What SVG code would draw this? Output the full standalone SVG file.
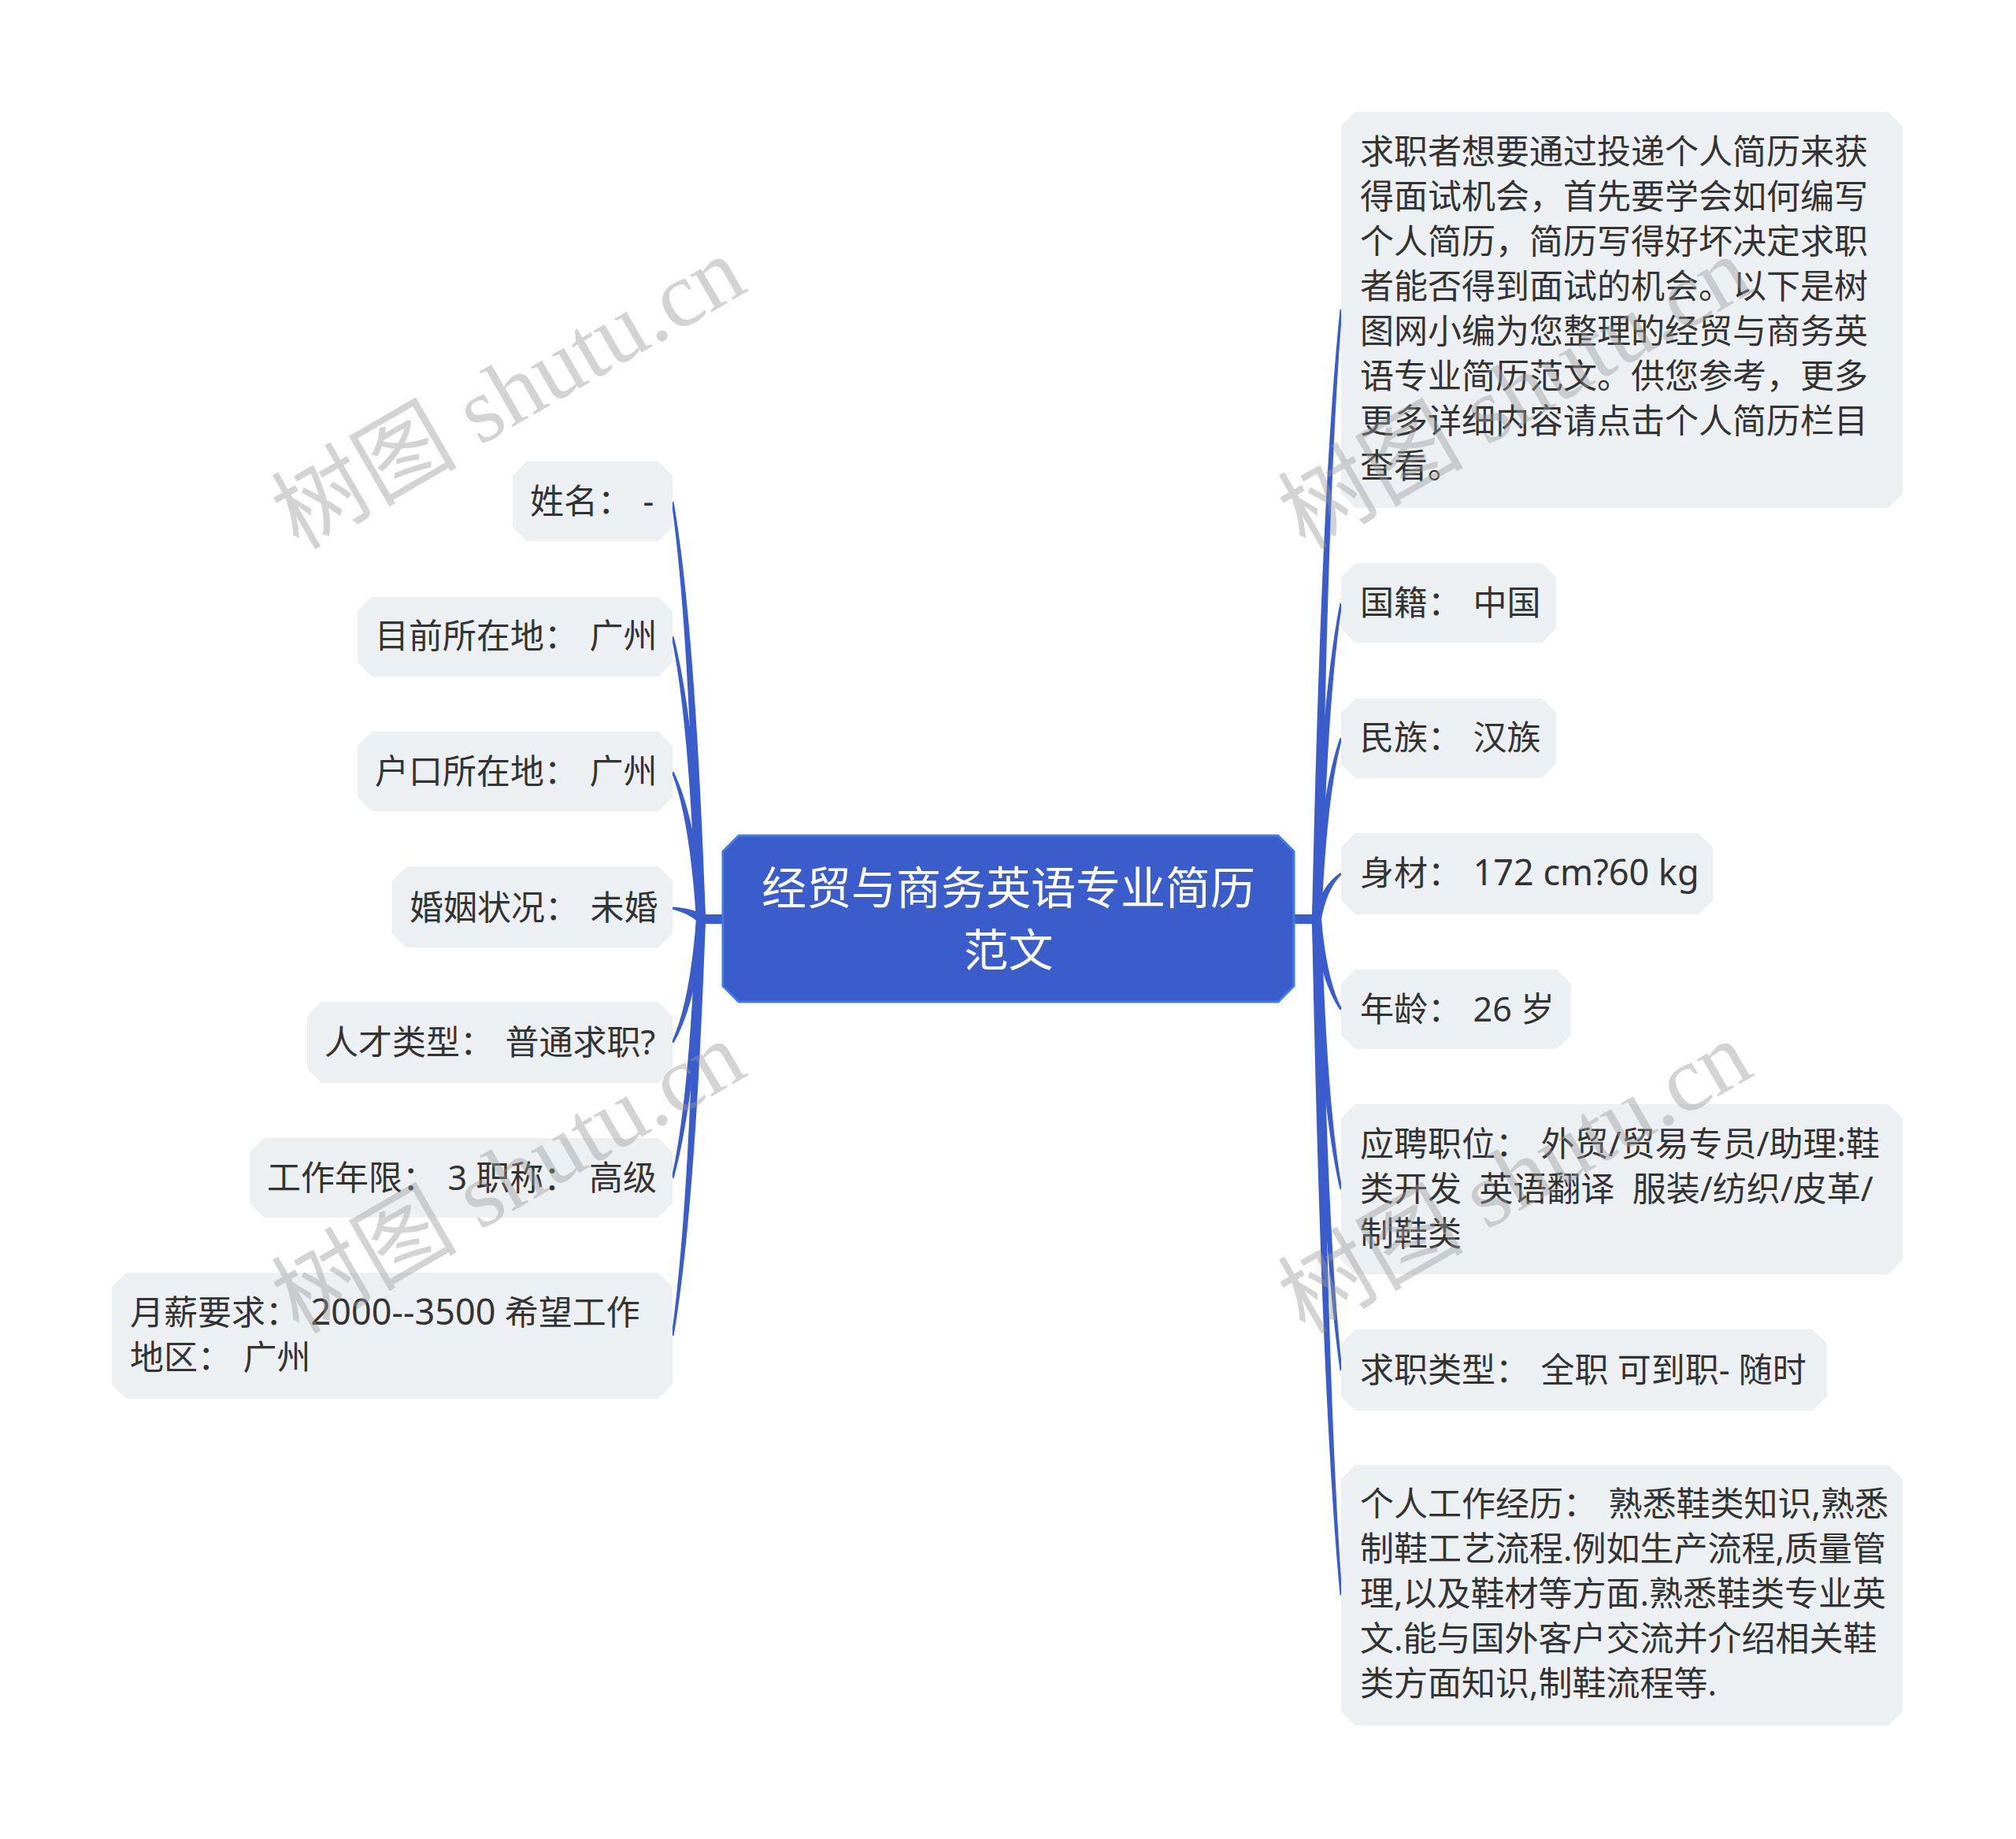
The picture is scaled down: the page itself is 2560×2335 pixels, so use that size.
<svg xmlns="http://www.w3.org/2000/svg" width="2560" height="2335" viewBox="0 0 2560 2335">
<style>
.node{fill:#EDF0F3;}
.t{font-family:"Noto Sans","Noto Sans CJK SC",sans-serif;font-size:43px;fill:#333333;}
.big{font-size:45px;}
.sp{font-size:28px;}
.ct{font-family:"Noto Sans","Noto Sans CJK SC",sans-serif;font-size:57px;fill:#ffffff;}
.conn{fill:#3A5DCB;}
.wm{font-family:"Liberation Serif","Noto Sans CJK SC",serif;font-size:118px;fill:#999999;opacity:0.42;}
</style>
<rect x="0" y="0" width="2560" height="2335" fill="#ffffff"/>
<g id="connectors">
<rect class="conn" x="888" y="1161" width="32" height="12"/>
<rect class="conn" x="1641" y="1161" width="33" height="12"/>
<path class="conn" d="M896.0,1166.6 Q882.9,795.8 855.5,636.9 L852.5,637.1 Q875.5,796.3 884.0,1167.4 Z"/>
<path class="conn" d="M896.0,1166.4 Q882.9,915.3 855.5,807.9 L852.5,808.2 Q875.5,916.1 884.0,1167.6 Z"/>
<path class="conn" d="M895.9,1165.9 Q882.9,1035.4 855.5,979.7 L852.5,980.3 Q875.5,1036.8 884.1,1168.1 Z"/>
<path class="conn" d="M892.2,1161.4 Q880.6,1153.7 854.5,1151.6 L853.5,1154.4 Q877.8,1160.7 887.8,1172.6 Z"/>
<path class="conn" d="M884.2,1165.7 Q875.5,1276.1 852.5,1323.7 L855.5,1324.3 Q882.9,1277.7 895.9,1168.3 Z"/>
<path class="conn" d="M884.0,1166.4 Q875.5,1396.9 852.5,1495.8 L855.5,1496.2 Q882.9,1397.7 896.0,1167.7 Z"/>
<path class="conn" d="M884.0,1166.6 Q875.5,1537.1 852.5,1695.9 L855.5,1696.1 Q882.9,1537.6 896.0,1167.4 Z"/>
<path class="conn" d="M1678.0,1167.2 Q1685.1,625.4 1704.5,393.1 L1701.5,392.9 Q1677.6,625.1 1666.0,1166.8 Z"/>
<path class="conn" d="M1678.0,1167.5 Q1685.0,886.6 1704.5,766.1 L1701.5,765.9 Q1677.6,886.0 1666.0,1166.5 Z"/>
<path class="conn" d="M1678.0,1167.8 Q1685.0,1006.5 1704.5,937.2 L1701.5,936.8 Q1677.6,1005.5 1666.1,1166.2 Z"/>
<path class="conn" d="M1677.3,1169.8 Q1684.6,1128.2 1704.3,1109.7 L1701.7,1108.3 Q1678.0,1124.6 1666.7,1164.2 Z"/>
<path class="conn" d="M1666.2,1168.6 Q1677.7,1248.5 1701.6,1282.4 L1704.5,1281.6 Q1684.9,1246.5 1677.8,1165.4 Z"/>
<path class="conn" d="M1666.0,1167.5 Q1677.6,1407.4 1701.5,1510.1 L1704.5,1509.9 Q1685.0,1406.8 1678.0,1166.5 Z"/>
<path class="conn" d="M1666.0,1167.3 Q1677.6,1568.3 1701.5,1740.1 L1704.5,1739.9 Q1685.0,1567.9 1678.0,1166.7 Z"/>
<path class="conn" d="M1666.0,1167.2 Q1677.6,1767.7 1701.5,2025.1 L1704.5,2025.0 Q1685.1,1767.5 1678.0,1166.8 Z"/>
</g>
<g id="center">
<path d="M938,1061 L1623,1061 L1643,1081 L1643,1252 L1623,1272 L938,1272 L918,1252 L918,1081 Z" fill="#3A5DCB" stroke="#3F7BE3" stroke-width="3"/>
<text class="ct" x="1280.5" y="1148" text-anchor="middle">经贸与商务英语专业简历</text>
<text class="ct" x="1280.5" y="1227" text-anchor="middle">范文</text>
</g>
<g id="n-name">
<path class="node" d="M669,586 L836,586 L854,604 L854,669 L836,687 L669,687 L651,669 L651,604 Z"/>
<text class="t" x="673" y="652" xml:space="preserve">姓名：<tspan class="sp">  </tspan>-</text>
</g>
<g id="n-location">
<path class="node" d="M472,758 L836,758 L854,776 L854,841 L836,859 L472,859 L454,841 L454,776 Z"/>
<text class="t" x="476" y="823" xml:space="preserve">目前所在地：<tspan class="sp">  </tspan>广州</text>
</g>
<g id="n-hukou">
<path class="node" d="M472,929 L836,929 L854,947 L854,1012 L836,1030 L472,1030 L454,1012 L454,947 Z"/>
<text class="t" x="476" y="995" xml:space="preserve">户口所在地：<tspan class="sp">  </tspan>广州</text>
</g>
<g id="n-marriage">
<path class="node" d="M516,1100 L836,1100 L854,1118 L854,1185 L836,1203 L516,1203 L498,1185 L498,1118 Z"/>
<text class="t" x="520" y="1168" xml:space="preserve">婚姻状况：<tspan class="sp">  </tspan>未婚</text>
</g>
<g id="n-talent">
<path class="node" d="M408,1272 L836,1272 L854,1290 L854,1357 L836,1375 L408,1375 L390,1357 L390,1290 Z"/>
<text class="t" x="412" y="1339" xml:space="preserve">人才类型：<tspan class="sp">  </tspan>普通求职?</text>
</g>
<g id="n-years">
<path class="node" d="M335,1445 L836,1445 L854,1463 L854,1528 L836,1546 L335,1546 L317,1528 L317,1463 Z"/>
<text class="t" x="339" y="1511" xml:space="preserve">工作年限：<tspan class="sp">  </tspan>3 职称：<tspan class="sp">  </tspan>高级</text>
</g>
<g id="n-salary">
<path class="node" d="M160,1616 L836,1616 L854,1634 L854,1758 L836,1776 L160,1776 L142,1758 L142,1634 Z"/>
<text class="t" x="165" y="1682" xml:space="preserve">月薪要求：<tspan class="sp">  </tspan><tspan class="big">2000--3500</tspan> 希望工作</text>
<text class="t" x="165" y="1739" xml:space="preserve">地区：<tspan class="sp">  </tspan>广州</text>
</g>
<g id="n-intro">
<path class="node" d="M1721,142 L2398,142 L2416,160 L2416,627 L2398,645 L1721,645 L1703,627 L1703,160 Z"/>
<text class="t" x="1727" y="208">求职者想要通过投递个人简历来获</text>
<text class="t" x="1727" y="265">得面试机会，首先要学会如何编写</text>
<text class="t" x="1727" y="322">个人简历，简历写得好坏决定求职</text>
<text class="t" x="1727" y="379">者能否得到面试的机会。以下是树</text>
<text class="t" x="1727" y="436">图网小编为您整理的经贸与商务英</text>
<text class="t" x="1727" y="493">语专业简历范文。供您参考，更多</text>
<text class="t" x="1727" y="550">更多详细内容请点击个人简历栏目</text>
<text class="t" x="1727" y="607">查看。</text>
</g>
<g id="n-nationality">
<path class="node" d="M1721,715 L1958,715 L1976,733 L1976,798 L1958,816 L1721,816 L1703,798 L1703,733 Z"/>
<text class="t" x="1727" y="781" xml:space="preserve">国籍：<tspan class="sp">  </tspan>中国</text>
</g>
<g id="n-ethnic">
<path class="node" d="M1721,887 L1958,887 L1976,905 L1976,970 L1958,988 L1721,988 L1703,970 L1703,905 Z"/>
<text class="t" x="1727" y="952" xml:space="preserve">民族：<tspan class="sp">  </tspan>汉族</text>
</g>
<g id="n-body">
<path class="node" d="M1721,1058 L2157,1058 L2175,1076 L2175,1143 L2157,1161 L1721,1161 L1703,1143 L1703,1076 Z"/>
<text class="t" x="1727" y="1124" xml:space="preserve">身材：<tspan class="sp">  </tspan><tspan class="big">172 cm?60 kg</tspan></text>
</g>
<g id="n-age">
<path class="node" d="M1721,1231 L1977,1231 L1995,1249 L1995,1314 L1977,1332 L1721,1332 L1703,1314 L1703,1249 Z"/>
<text class="t" x="1727" y="1297" xml:space="preserve">年龄：<tspan class="sp">  </tspan>26 岁</text>
</g>
<g id="n-position">
<path class="node" d="M1721,1402 L2398,1402 L2416,1420 L2416,1600 L2398,1618 L1721,1618 L1703,1600 L1703,1420 Z"/>
<text class="t" x="1727" y="1468" xml:space="preserve">应聘职位：<tspan class="sp">  </tspan>外贸/贸易专员/助理:鞋</text>
<text class="t" x="1727" y="1525" xml:space="preserve">类开发  英语翻译  服装/纺织/皮革/</text>
<text class="t" x="1727" y="1582">制鞋类</text>
</g>
<g id="n-jobtype">
<path class="node" d="M1721,1688 L2302,1688 L2320,1706 L2320,1773 L2302,1791 L1721,1791 L1703,1773 L1703,1706 Z"/>
<text class="t" x="1727" y="1755" xml:space="preserve">求职类型：<tspan class="sp">  </tspan>全职 可到职- 随时</text>
</g>
<g id="n-experience">
<path class="node" d="M1721,1860 L2398,1860 L2416,1878 L2416,2173 L2398,2191 L1721,2191 L1703,2173 L1703,1878 Z"/>
<text class="t" x="1727" y="1925" xml:space="preserve">个人工作经历：<tspan class="sp">  </tspan>熟悉鞋类知识,熟悉</text>
<text class="t" x="1727" y="1982">制鞋工艺流程.例如生产流程,质量管</text>
<text class="t" x="1727" y="2039">理,以及鞋材等方面.熟悉鞋类专业英</text>
<text class="t" x="1727" y="2096">文.能与国外客户交流并介绍相关鞋</text>
<text class="t" x="1727" y="2153">类方面知识,制鞋流程等.</text>
</g>
<g id="watermarks">
<text class="wm" transform="translate(379,699) rotate(-30)">树图 shutu.cn</text>
<text class="wm" transform="translate(379,1695) rotate(-30)">树图 shutu.cn</text>
<text class="wm" transform="translate(1657,699) rotate(-30)">树图 shutu.cn</text>
<text class="wm" transform="translate(1657,1695) rotate(-30)">树图 shutu.cn</text>
</g>
</svg>
